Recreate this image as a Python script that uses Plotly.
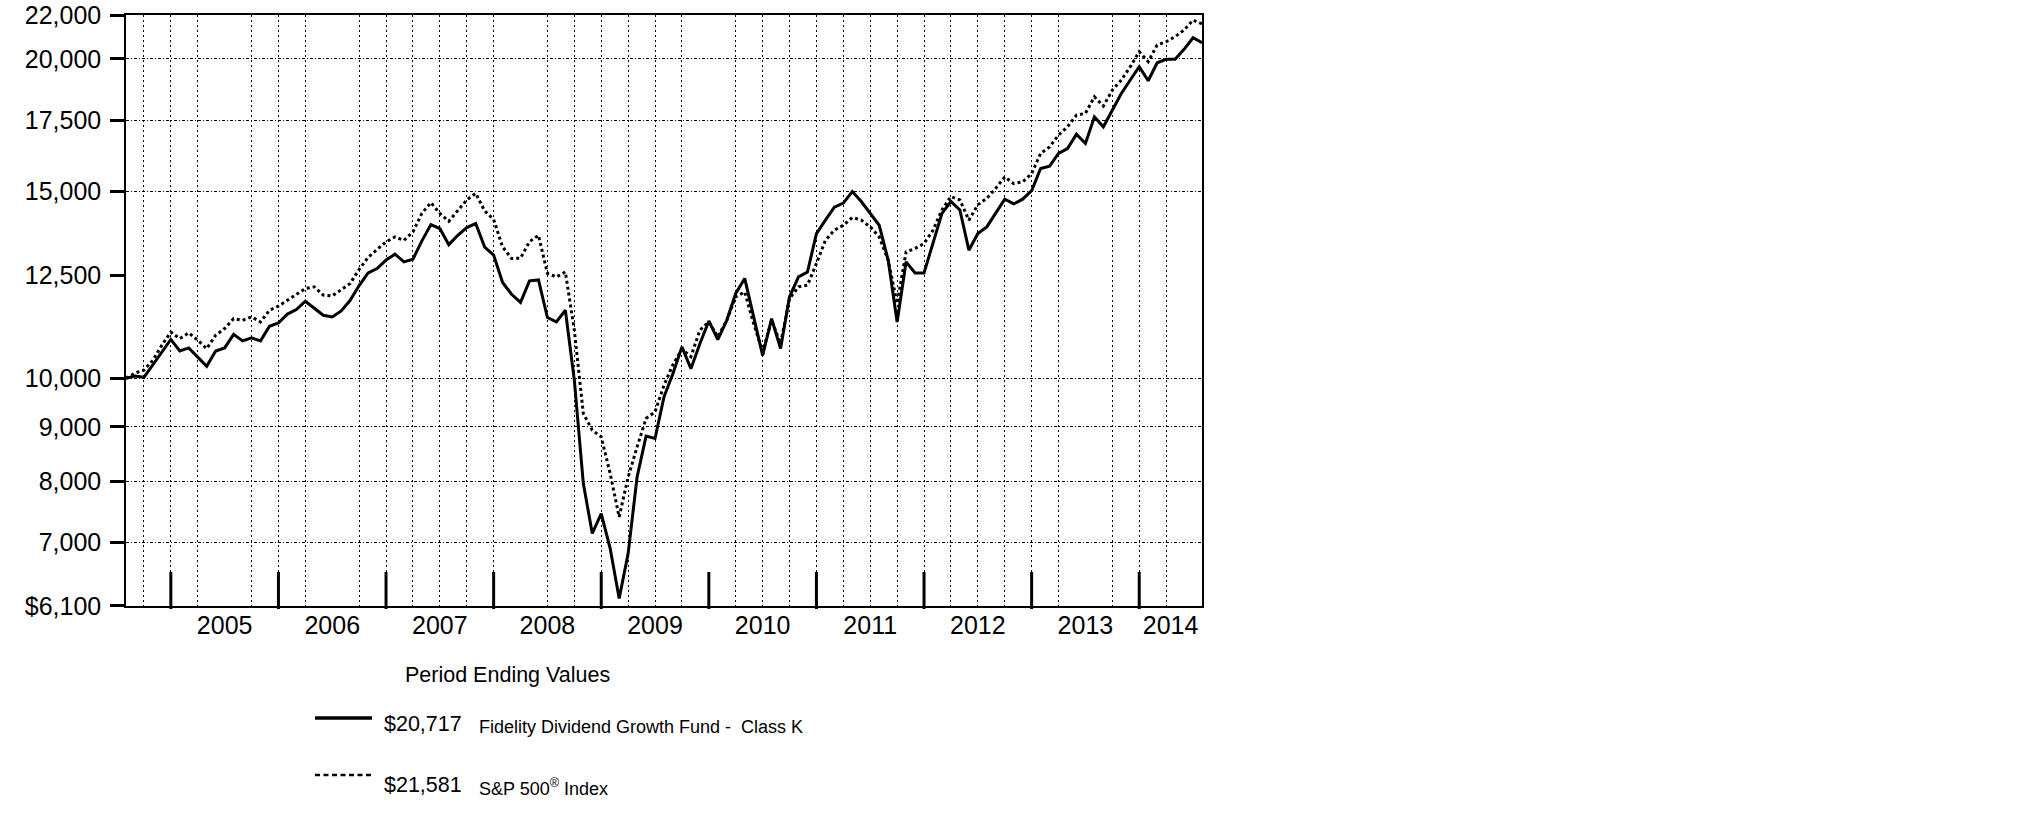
import math
import plotly.graph_objects as go

# month index 0 = start of the 10-year period, 120 = end
months = list(range(121))

fund = [10000, 10050, 10020, 10290, 10590, 10880, 10610, 10680, 10470, 10265,
        10610, 10680, 11000, 10845, 10915, 10845, 11195, 11275, 11495, 11610,
        11820, 11635, 11465, 11425, 11575, 11845, 12230, 12570, 12690, 12925,
        13090, 12875, 12950, 13475, 13960, 13840, 13365, 13640, 13870, 13990,
        13295, 13065, 12310, 12000, 11790, 12355, 12380, 11410, 11300, 11590,
        9960, 7960, 7140, 7455, 6910, 6200, 6835, 8070, 8820, 8775,
        9605, 10105, 10705, 10210, 10780, 11325, 10875, 11340, 12020, 12420,
        11425, 10510, 11380, 10665, 11935, 12460, 12595, 13690, 14095, 14495,
        14625, 14995, 14675, 14305, 13940, 12925, 11300, 12875, 12570, 12570,
        13395, 14305, 14675, 14410, 13205, 13690, 13890, 14305, 14750, 14600,
        14750, 15025, 15765, 15845, 16290, 16465, 16985, 16645, 17635, 17260,
        17895, 18555, 19105, 19665, 19075, 19835, 19985, 19985, 20420, 20940,
        20717]

sp500 = [10000, 10115, 10175, 10400, 10745, 11055, 10900, 11035, 10860, 10665,
         10980, 11140, 11380, 11340, 11425, 11300, 11590, 11695, 11845, 12000,
         12150, 12195, 11980, 11955, 12110, 12285, 12665, 13000, 13225, 13445,
         13590, 13490, 13740, 14305, 14640, 14305, 14060, 14380, 14725, 14940,
         14380, 14115, 13300, 12970, 12980, 13450, 13640, 12555, 12460, 12595,
         11100, 9265, 8935, 8805, 8130, 7400, 8070, 8615, 9165, 9295,
         9850, 10300, 10650, 10480, 11100, 11300, 10940, 11340, 11935, 12060,
         11260, 10590, 11340, 10780, 11890, 12195, 12240, 12830, 13490, 13790,
         13940, 14175, 14095, 13890, 13590, 12925, 11765, 13155, 13255, 13395,
         13790, 14410, 14835, 14725, 14095, 14570, 14780, 15105, 15480, 15260,
         15315, 15595, 16290, 16525, 16950, 17260, 17705, 17770, 18420, 18055,
         18690, 19105, 19665, 20315, 19880, 20615, 20760, 20990, 21295, 21760,
         21581]

y_ticks = [6100, 7000, 8000, 9000, 10000, 12500, 15000, 17500, 20000, 22000]
y_labels = ["$6,100", "7,000", "8,000", "9,000", "10,000", "12,500",
            "15,000", "17,500", "20,000", "22,000"]
y_grid = [7000, 8000, 9000, 10000, 15000, 17500, 20000]

years = ["2005", "2006", "2007", "2008", "2009", "2010", "2011", "2012", "2013", "2014"]
year_marks = [5, 17, 29, 41, 53, 65, 77, 89, 101, 113]
grid_months = [2, 5, 8, 14, 17, 20, 26, 29, 32, 35, 38, 41, 47, 50, 53, 56, 59, 62,
               68, 71, 74, 77, 80, 83, 86, 89, 92, 95, 98, 101, 104, 110, 113, 116]

fund_name = "Fidelity Dividend Growth Fund -  Class K"
index_name = "S&P 500<sup>®</sup> Index"
fund_end = "$20,717"
index_end = "$21,581"

# page is 2025x828 (body margin removed below)
W, H = 2025, 828
# plot box in page pixels
L, R, T, B = 126, 1202, 15, 606


def px(x):
    return (x - L) / (R - L)


def py(y):
    return (B - y) / (B - T)


label_pos = [(a + b) / 2 for a, b in zip(year_marks, year_marks[1:] + [120])]
y_range = [math.log10(y_ticks[0]) - 1e-5, math.log10(y_ticks[-1]) + 1e-5]

axis_font = dict(family="Liberation Sans, Arial, sans-serif", size=25, color="black")
legend_family = "Liberation Sans, Arial, sans-serif"

fig = go.Figure()
fig.add_trace(go.Scatter(x=months, y=sp500, mode="lines",
                         line=dict(color="black", width=3, dash="3px,3px")))
fig.add_trace(go.Scatter(x=months, y=fund, mode="lines",
                         line=dict(color="black", width=3)))
# empty trace so the overlay axes (year labels, y grid) get drawn
fig.add_trace(go.Scatter(x=[None], y=[None], xaxis="x2", yaxis="y2",
                         mode="lines", hoverinfo="skip"))

fig.update_layout(
    width=W, height=H,
    margin=dict(l=L, r=W - R, t=T, b=H - B, autoexpand=False),
    paper_bgcolor="white", plot_bgcolor="white",
    showlegend=False,
    xaxis=dict(range=[0, 120], tickmode="array", tickvals=grid_months,
               showticklabels=False, ticks="", automargin=False,
               showgrid=True, gridcolor="black", gridwidth=1, griddash="2px,3px",
               zeroline=False, showline=True, linecolor="black", linewidth=1.5,
               mirror=True),
    xaxis2=dict(range=[0, 120], overlaying="x", anchor="y", side="bottom",
                tickmode="array", tickvals=label_pos, ticktext=years,
                ticks="", showgrid=False, zeroline=False, showline=False,
                automargin=False, tickfont=axis_font, ticklabelstandoff=2),
    yaxis=dict(type="log", range=y_range, tickmode="array",
               tickvals=y_ticks, ticktext=y_labels, ticks="outside",
               ticklen=14, tickwidth=3, tickcolor="black", showgrid=False,
               zeroline=False, showline=True, linecolor="black", linewidth=1.5,
               mirror=True, tickfont=axis_font, ticklabelstandoff=4,
               ticklabeloverflow="allow", automargin=False),
    yaxis2=dict(type="log", range=y_range, overlaying="y",
                anchor="x", side="left", tickmode="array", tickvals=y_grid,
                showticklabels=False, ticks="", showgrid=True, automargin=False,
                gridcolor="black", gridwidth=1, griddash="3px,2px,1px,2px",
                zeroline=False, showline=False),
)

# heavy year marks along the bottom axis
for m in year_marks:
    fig.add_shape(type="line", xref="x", yref="paper", x0=m, x1=m,
                  y0=py(609), y1=py(572), line=dict(color="black", width=3))

# legend block
fig.add_shape(type="line", xref="paper", yref="paper", x0=px(315), x1=px(372),
              y0=py(718), y1=py(718), line=dict(color="black", width=3.5))
fig.add_shape(type="line", xref="paper", yref="paper", x0=px(315), x1=px(371),
              y0=py(775), y1=py(775), line=dict(color="black", width=2.5, dash="5px,3.5px"))

texts = [
    ("Period Ending Values", 403, 675, 21.5),
    (fund_end, 382, 724, 21.5),
    (fund_name, 477, 727, 18),
    (index_end, 382, 785, 21.5),
    (index_name, 477, 787, 18),
]
for txt, x, y, s in texts:
    fig.add_annotation(text=txt, xref="paper", yref="paper", x=px(x), y=py(y),
                       xanchor="left", yanchor="middle", showarrow=False,
                       font=dict(family=legend_family, size=s, color="black"))

fig.write_html("out.html", config={"displayModeBar": False},
               post_script="document.body.style.margin = '0';")
